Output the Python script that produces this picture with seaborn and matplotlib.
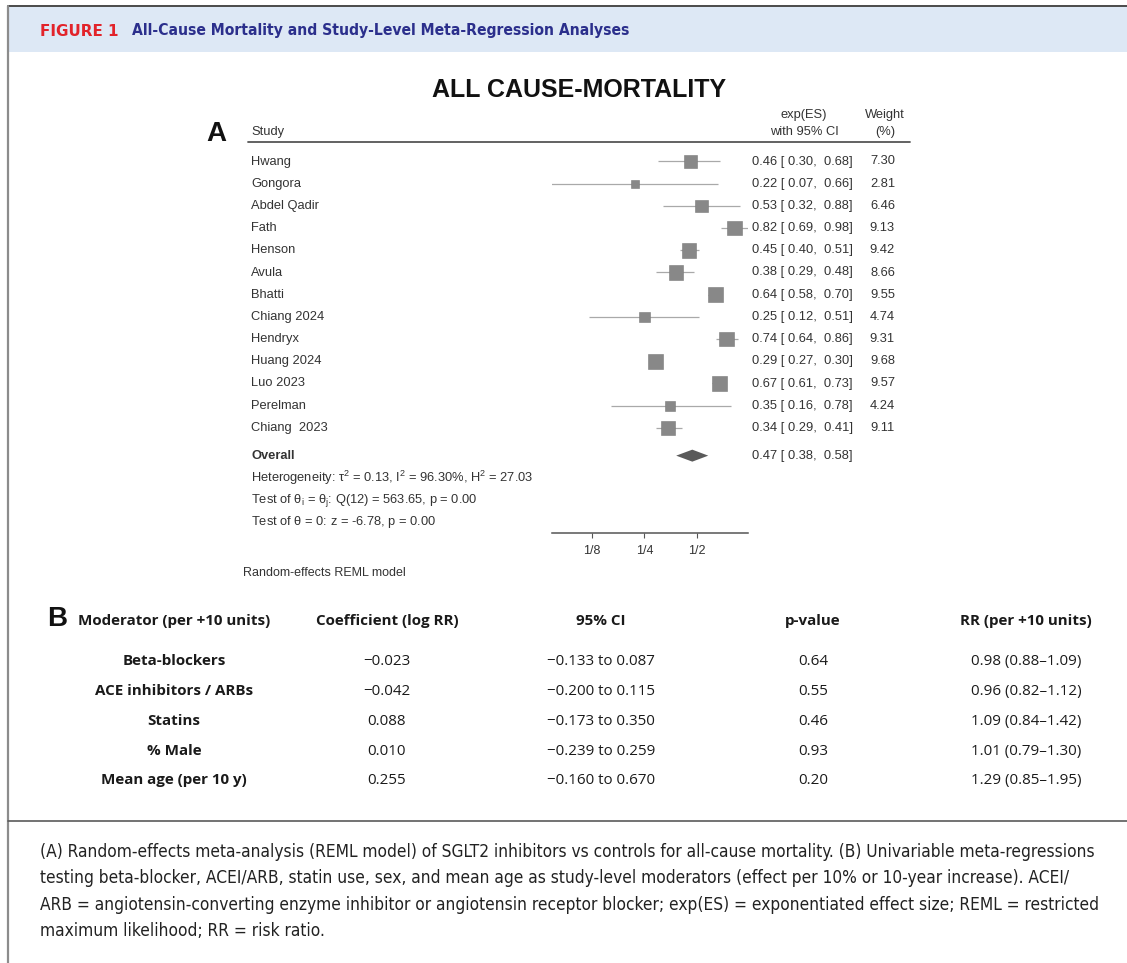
import matplotlib
matplotlib.use("Agg")
import matplotlib.pyplot as plt
import matplotlib.transforms as mtransforms
from matplotlib.lines import Line2D
from matplotlib.patches import Rectangle
import numpy as np
import pandas as pd
import seaborn as sns

# ---------------- data: panel A (forest plot) ----------------
studies = ["Hwang", "Gongora", "Abdel Qadir", "Fath", "Henson", "Avula", "Bhatti",
           "Chiang 2024", "Hendryx", "Huang 2024", "Luo 2023", "Perelman", "Chiang  2023"]
effect = [0.46, 0.22, 0.53, 0.82, 0.45, 0.38, 0.64, 0.25, 0.74, 0.29, 0.67, 0.35, 0.34]
ci_low = [0.30, 0.07, 0.32, 0.69, 0.40, 0.29, 0.58, 0.12, 0.64, 0.27, 0.61, 0.16, 0.29]
ci_high = [0.68, 0.66, 0.88, 0.98, 0.51, 0.48, 0.70, 0.51, 0.86, 0.30, 0.73, 0.78, 0.41]
weight = [7.30, 2.81, 6.46, 9.13, 9.42, 8.66, 9.55, 4.74, 9.31, 9.68, 9.57, 4.24, 9.11]
overall_effect = 0.47
overall_low = 0.38
overall_high = 0.58
stats_lines = [
    r"Heterogeneity: $\mathrm{\tau}^{2}$ = 0.13, I$^{2}$ = 96.30%, H$^{2}$ = 27.03",
    r"Test of $\mathrm{\theta}_{\mathrm{i}}$ = $\mathrm{\theta}_{\mathrm{j}}$: Q(12) = 563.65, p = 0.00",
    r"Test of $\mathrm{\theta}$ = 0: z = -6.78, p = 0.00",
]
axis_ticks = [0.125, 0.25, 0.5]
axis_tick_labels = ["1/8", "1/4", "1/2"]

# ---------------- data: panel B (meta-regression table) ----------------
table_headers = ["Moderator (per +10 units)", "Coefficient (log RR)", "95% CI",
                 "p-value", "RR (per +10 units)"]
moderators = ["Beta-blockers", "ACE inhibitors / ARBs", "Statins", "% Male",
              "Mean age (per 10 y)"]
coef = [-0.023, -0.042, 0.088, 0.010, 0.255]
coef_lo = [-0.133, -0.200, -0.173, -0.239, -0.160]
coef_hi = [0.087, 0.115, 0.350, 0.259, 0.670]
p_values = [0.64, 0.55, 0.46, 0.93, 0.20]
rr = [0.98, 0.96, 1.09, 1.01, 1.29]
rr_lo = [0.88, 0.82, 0.84, 0.79, 0.85]
rr_hi = [1.09, 1.12, 1.42, 1.30, 1.95]

caption_lines = [
    "(A) Random-effects meta-analysis (REML model) of SGLT2 inhibitors vs controls for all-cause mortality. (B) Univariable meta-regressions",
    "testing beta-blocker, ACEI/ARB, statin use, sex, and mean age as study-level moderators (effect per 10% or 10-year increase). ACEI/",
    "ARB = angiotensin-converting enzyme inhibitor or angiotensin receptor blocker; exp(ES) = exponentiated effect size; REML = restricted",
    "maximum likelihood; RR = risk ratio.",
]

# ---------------- style ----------------
sns.set_style("white")
plt.rcParams["font.family"] = ["Liberation Sans", "DejaVu Sans"]
plt.rcParams["mathtext.fontset"] = "custom"
plt.rcParams["mathtext.rm"] = "Liberation Sans"
plt.rcParams["mathtext.it"] = "Liberation Sans:italic"
plt.rcParams["mathtext.bf"] = "Liberation Sans:bold"

W, H = 1127, 963
fig = plt.figure(figsize=(W / 100, H / 100), dpi=100)
fig.patch.set_facecolor("white")
renderer = fig.canvas.get_renderer()


def fx(x):
    return x / W


def fy(y):
    return 1 - y / H


def ftext(x, y, s, **kw):
    kw.setdefault("va", "center")
    return fig.text(fx(x), fy(y), s, **kw)


def fline(x0, x1, y0, y1, **kw):
    fig.add_artist(Line2D([fx(x0), fx(x1)], [fy(y0), fy(y1)],
                          transform=fig.transFigure, **kw))


def fit_width(t, width_px):
    """Rescale a text's font size so that it spans width_px pixels."""
    bb = t.get_window_extent(renderer)
    t.set_fontsize(t.get_fontsize() * width_px / bb.width)
    return t.get_fontsize()


# ---------------- frame and header band ----------------
fig.add_artist(Rectangle((fx(8), fy(52)), fx(W) - fx(8), fy(7) - fy(52),
                         transform=fig.transFigure, facecolor="#dde8f5",
                         edgecolor="none", zorder=0))
fline(8, W, 6, 6, color="#4a4a4a", lw=1.4)
fline(8, 8, 6, H, color="#8c8c8c", lw=1.6)
fline(8, W, 821, 821, color="#5a5a5a", lw=1.2)

fig_label = ftext(40, 31, "FIGURE 1", color="#e2232a", fontweight="bold",
                  fontsize=10.3, family=["DejaVu Sans"])
fit_width(fig_label, 78)
head_title = ftext(132, 31, "All-Cause Mortality and Study-Level Meta-Regression Analyses",
                   color="#2b2f8c", fontweight="bold", fontsize=11.5,
                   family=["DejaVu Sans"], fontstretch="condensed")
fit_width(head_title, 502)

# ---------------- panel A: forest plot ----------------
row_px0, row_step = 161.5, 22.2
axis_y_px, top_px = 533, 142
x_left_px, x_right_px = 552, 748

ax = fig.add_axes([fx(x_left_px), fy(axis_y_px),
                   fx(x_right_px) - fx(x_left_px), fy(top_px) - fy(axis_y_px)])
ax.set_facecolor("none")
ax.set_xscale("log", base=2)
ax.set_xlim(0.0738, 0.98)
ax.set_ylim((axis_y_px - row_px0) / row_step, (top_px - row_px0) / row_step)

df = pd.DataFrame({"study": studies, "effect": effect, "low": ci_low,
                   "high": ci_high, "weight": weight,
                   "row": np.arange(len(studies), dtype=float)})

ax.hlines(df["row"], df["low"], df["high"], color="#a9a9a9", lw=0.9, zorder=2)
sns.scatterplot(data=df, x="effect", y="row", size="weight", sizes=(0, 120),
                size_norm=(0, 10), marker="s", color="#888888",
                edgecolor="#7a7a7a", linewidth=0.4, legend=False, ax=ax,
                zorder=3, clip_on=False)

overall_row = len(studies) + 0.25
ax.fill([overall_low, overall_effect, overall_high, overall_effect],
        [overall_row, overall_row - 0.27, overall_row, overall_row + 0.27],
        color="#5a5a5a", lw=0, zorder=3, clip_on=False)

ax.set_xticks(axis_ticks)
ax.set_xticklabels(axis_tick_labels)
ax.minorticks_off()
ax.set_yticks([])
ax.set_xlabel("")
ax.set_ylabel("")
for side in ["top", "left", "right"]:
    ax.spines[side].set_visible(False)
ax.spines["bottom"].set_color("#555555")
ax.spines["bottom"].set_linewidth(1.1)
ax.tick_params(axis="x", direction="out", length=3.5, width=0.8, color="#555555",
               pad=5, labelsize=9, labelcolor="#333333", bottom=True)

row_trans = mtransforms.blended_transform_factory(fig.transFigure, ax.transData)
txt = dict(fontsize=9.3, color="#333333", va="center")
for i, row in df.iterrows():
    fig.text(fx(251), row["row"], row["study"], transform=row_trans, **txt)
    fig.text(fx(752), row["row"],
             f"{row['effect']:.2f} [ {row['low']:.2f},  {row['high']:.2f}]",
             transform=row_trans, **txt)
    fig.text(fx(895), row["row"], f"{row['weight']:.2f}", transform=row_trans,
             ha="right", **txt)
fig.text(fx(251), overall_row, "Overall", transform=row_trans,
         fontweight="bold", **txt)
fig.text(fx(752), overall_row,
         f"{overall_effect:.2f} [ {overall_low:.2f},  {overall_high:.2f}]",
         transform=row_trans, **txt)
for k, line in enumerate(stats_lines):
    fig.text(fx(251), overall_row + 1 + k, line, transform=row_trans, **txt)

ftext(579, 90, "ALL CAUSE-MORTALITY", fontsize=18, fontweight="bold",
      color="#111111", ha="center")
ftext(206, 134, "A", fontsize=20, fontweight="bold", color="#111111")
ftext(251, 132, "Study", fontsize=9.3, color="#333333")
ftext(804, 115, "exp(ES)", fontsize=9.3, color="#333333", ha="center")
ftext(804, 132, "with 95% CI", fontsize=9.3, color="#333333", ha="center")
ftext(885, 115, "Weight", fontsize=9.3, color="#333333", ha="center")
ftext(885, 132, "(%)", fontsize=9.3, color="#333333", ha="center")
fline(248, 910, top_px, top_px, color="#555555", lw=1.3)
ftext(243, 573, "Random-effects REML model", fontsize=9, color="#333333")

# ---------------- panel B: table ----------------
tfont = ["Open Sans", "DejaVu Sans"]
col_x = [174, 387, 601, 813, 1026]
ftext(47, 619, "B", fontsize=20, fontweight="bold", color="#111111")
for x, h in zip(col_x, table_headers):
    ftext(x, 621, h, fontsize=10.9, fontweight="bold", color="#1a1a1a",
          ha="center", family=tfont)


def signed(v):
    return f"{v:.3f}".replace("-", "\u2212")


row_y = [661, 691, 721, 751, 780]
for j, y in enumerate(row_y):
    cells = [
        moderators[j],
        signed(coef[j]),
        f"{signed(coef_lo[j])} to {signed(coef_hi[j])}",
        f"{p_values[j]:.2f}",
        f"{rr[j]:.2f} ({rr_lo[j]:.2f}\u2013{rr_hi[j]:.2f})",
    ]
    for c, (x, s) in enumerate(zip(col_x, cells)):
        ftext(x, y, s, fontsize=10.9, color="#1a1a1a", ha="center", family=tfont,
              fontweight="bold" if c == 0 else "normal")

# ---------------- caption ----------------
cap_texts = [ftext(40, 852 + 26.4 * k, line, fontsize=12.0, color="#222222",
                   family=["DejaVu Sans"], fontstretch="condensed")
             for k, line in enumerate(caption_lines)]
cap_size = fit_width(cap_texts[0], 1053)
for t in cap_texts[1:]:
    t.set_fontsize(cap_size)

fig.savefig("out.png", dpi=100, facecolor="white")
